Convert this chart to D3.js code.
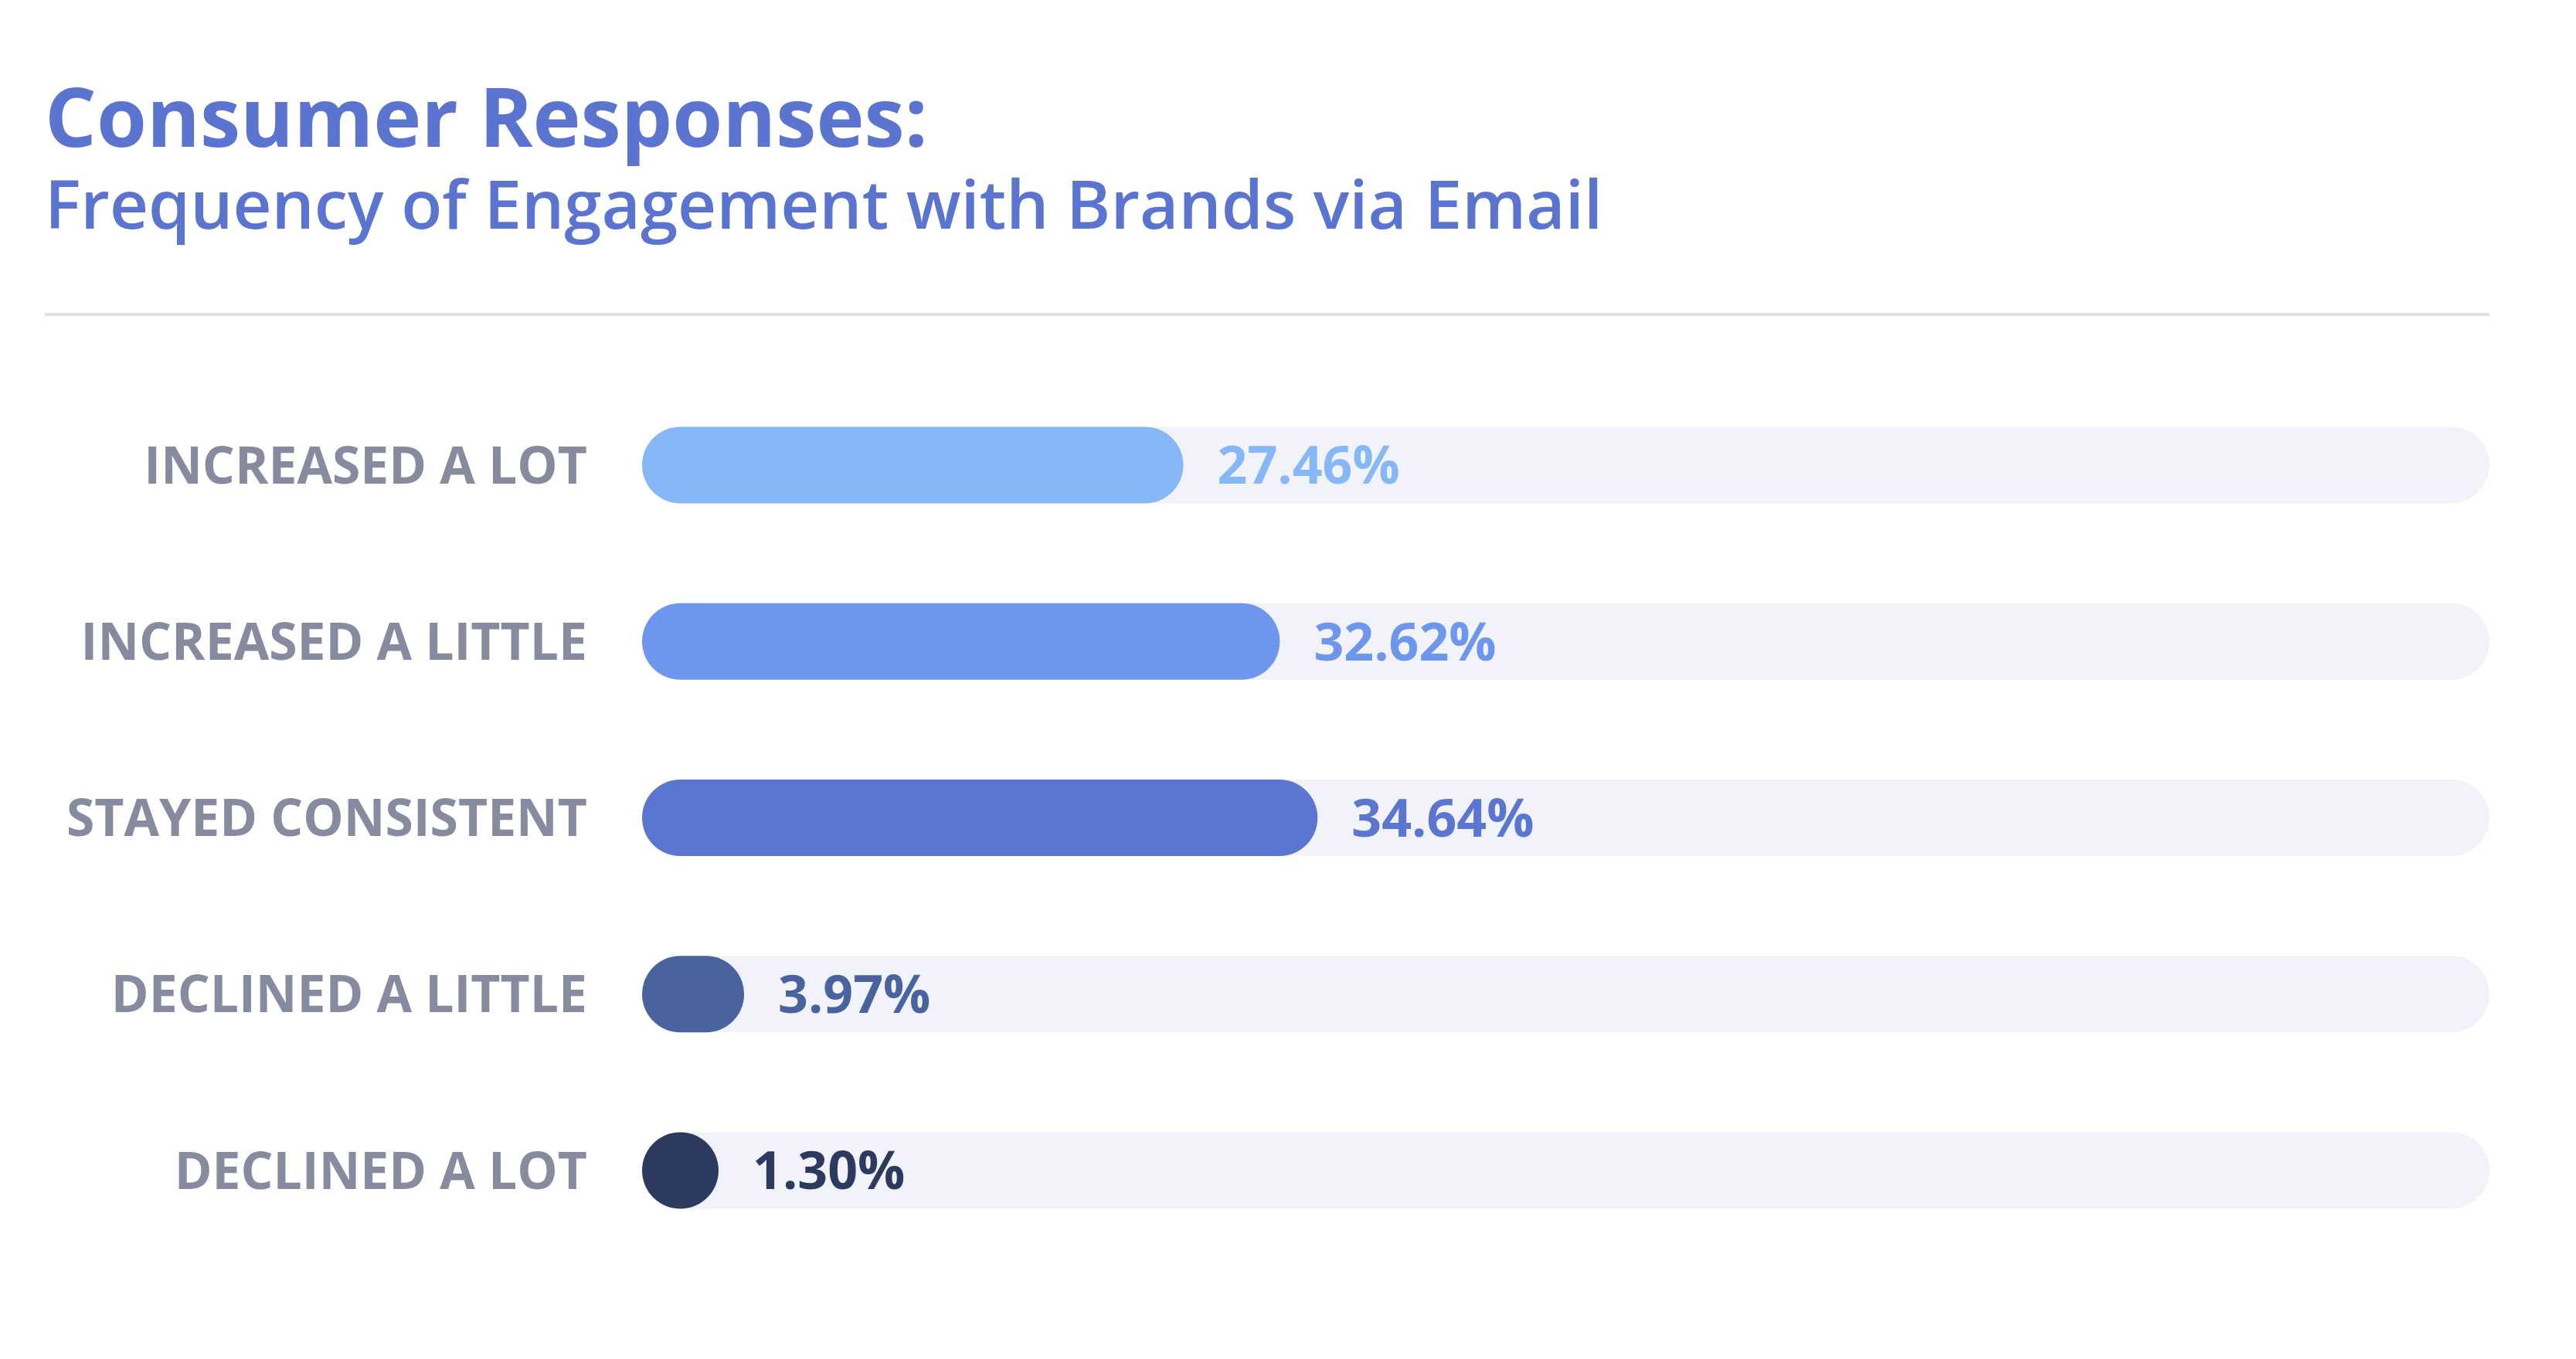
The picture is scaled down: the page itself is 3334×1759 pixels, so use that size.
<!DOCTYPE html>
<html>
<head>
<meta charset="utf-8">
<script src="https://cdn.jsdelivr.net/npm/d3@7"></script>
<style>
  body { margin: 0; background: #ffffff; }
  text { font-family: "Open Sans", "Noto Sans", sans-serif; }
</style>
</head>
<body>
<div id="chart"></div>
<script>
// chart data
var categories = ["INCREASED A LOT", "INCREASED A LITTLE", "STAYED CONSISTENT", "DECLINED A LITTLE", "DECLINED A LOT"];
var values = [27.46, 32.62, 34.64, 3.97, 1.30];
var barColors = ["#86b8f8", "#6e96ec", "#5b76d0", "#48639d", "#2c3a5f"];

var titleText = "Consumer Responses:";
var subtitleText = "Frequency of Engagement with Brands via Email";

var width = 3334,
    height = 1759;

var svg = d3.select("#chart").append("svg")
    .attr("width", width)
    .attr("height", height);

svg.append("rect")
    .attr("width", width)
    .attr("height", height)
    .attr("fill", "#ffffff");

// title block
svg.append("text")
    .attr("x", 58)
    .attr("y", 190)
    .attr("fill", "#5b74cf")
    .attr("font-size", 105)
    .attr("font-weight", 700)
    .text(titleText);

svg.append("text")
    .attr("x", 58)
    .attr("y", 296)
    .attr("fill", "#5b74cf")
    .attr("font-size", 87)
    .attr("font-weight", 600)
    .text(subtitleText);

svg.append("rect")
    .attr("x", 58)
    .attr("y", 405)
    .attr("width", 3222 - 58)
    .attr("height", 4)
    .attr("fill", "#dfdfe5");

// bars
var trackX = 831,
    trackEnd = 3222,
    barH = 99,
    capPad = 36;

var y = d3.scalePoint()
    .domain(categories)
    .range([602, 1515]);

var x = d3.scaleLinear()
    .domain([0, 100])
    .range([0, 2420]);

var barW = function(v){
    return Math.max(barH, capPad + x(v));
};

var rows = svg.selectAll("g.row")
    .data(categories)
    .enter()
    .append("g")
    .attr("class", "row")
    .attr("transform", function(d){ return "translate(0," + y(d) + ")"; });

rows.append("rect")
    .attr("x", trackX)
    .attr("y", -barH / 2)
    .attr("width", trackEnd - trackX)
    .attr("height", barH)
    .attr("rx", barH / 2)
    .attr("fill", "#f1f2fa");

rows.append("rect")
    .attr("x", trackX)
    .attr("y", -barH / 2)
    .attr("width", function(d, i){ return barW(values[i]); })
    .attr("height", barH)
    .attr("rx", barH / 2)
    .attr("fill", function(d, i){ return barColors[i]; });

rows.append("text")
    .attr("x", 760)
    .attr("dy", "0.357em")
    .attr("text-anchor", "end")
    .attr("fill", "#878ba0")
    .attr("font-size", 66)
    .attr("font-weight", 700)
    .text(function(d){ return d; });

rows.append("text")
    .attr("x", function(d, i){ return trackX + barW(values[i]) + 44; })
    .attr("dy", "0.357em")
    .attr("fill", function(d, i){ return barColors[i]; })
    .attr("font-size", 68)
    .attr("font-weight", 700)
    .text(function(d, i){ return values[i].toFixed(2) + "%"; });
</script>
</body>
</html>
